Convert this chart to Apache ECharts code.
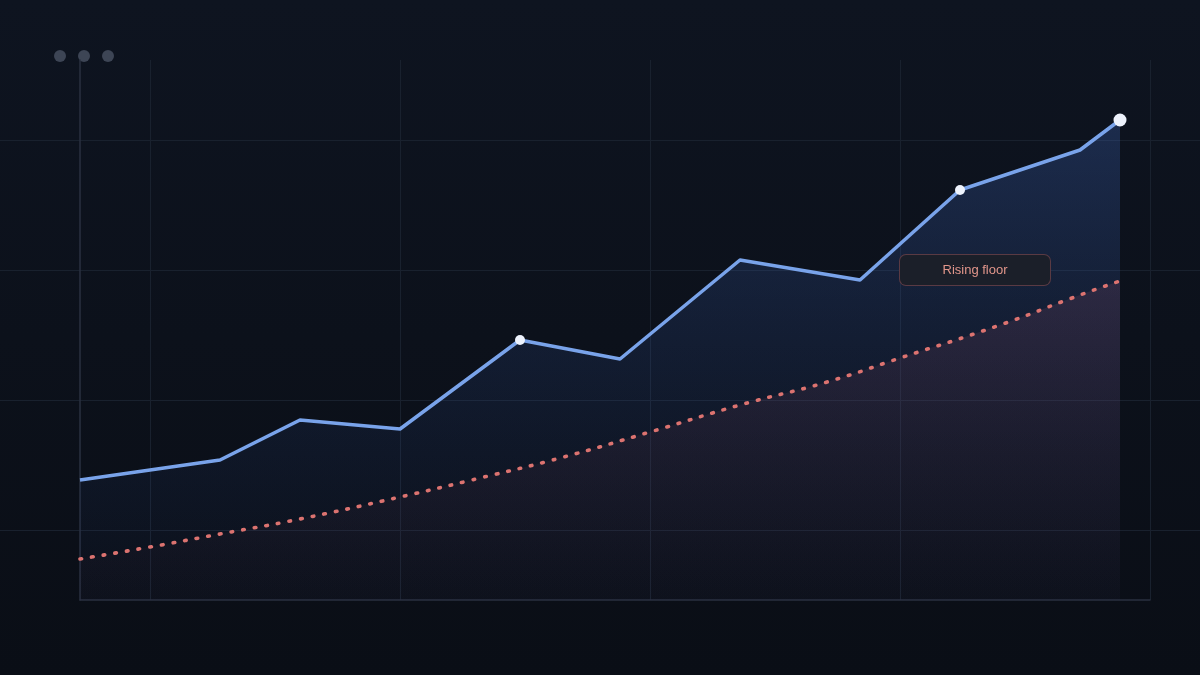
<!DOCTYPE html>
<html>
<head>
<meta charset="utf-8">
<script src="https://cdn.jsdelivr.net/npm/echarts@6/dist/echarts.min.js"></script>
<style>
html,body{margin:0;padding:0;background:#0c111b;}
#chart{width:1200px;height:675px;}
</style>
</head>
<body>
<div id="chart"></div>
<script>
// x positions (arbitrary time units) and values
const trendX = [0, 7, 11, 16, 22, 27, 33, 39, 44, 50, 52];
const trendY = [12, 14, 18, 17.1, 26, 24.1, 34, 32, 41, 45, 48];
const floorX = [0, 3.5, 7, 11, 16, 20, 24, 28.5, 33, 37.35, 41, 46, 50, 52];
const floorY = [4.1, 5.3, 6.6, 8.1, 10.3, 12.2, 14.2, 16.8, 19.5, 21.8, 24.2, 27.5, 30.5, 31.9];
const highlightIdx = [4, 8, 10];
const highlightSize = [10, 10, 13];
const floorLabel = 'Rising floor';
const floorLabelAt = [44.75, 33];

const chart = echarts.init(document.getElementById('chart'), null, {renderer:'canvas'});
const grad = (stops) => new echarts.graphic.LinearGradient(0, 0, 0, 1, stops);

const gridLine = {show:true, lineStyle:{color:'#19212e', width:1}};
const hidden = {show:false};

const option = {
  animation:false,
  backgroundColor: grad([{offset:0,color:'#0e1420'},{offset:1,color:'#0a0e16'}]),
  graphic:[
    {type:'circle', shape:{cx:60, cy:56, r:6}, style:{fill:'#3d4555'}, silent:true},
    {type:'circle', shape:{cx:84, cy:56, r:6}, style:{fill:'#3d4555'}, silent:true},
    {type:'circle', shape:{cx:108, cy:56, r:6}, style:{fill:'#3d4555'}, silent:true}
  ],
  grid:[
    {left:80, right:50, top:60, bottom:75},
    {left:150, right:50, top:60, bottom:75},
    {left:0, right:0, top:140, bottom:145}
  ],
  xAxis:[
    {gridIndex:0, type:'value', min:0, max:53.5,
     axisLine:{show:true, onZero:false, lineStyle:{color:'#2a3140', width:1.5}},
     axisTick:hidden, axisLabel:hidden, splitLine:hidden},
    {gridIndex:1, type:'value', min:0, max:4, interval:1,
     axisLine:hidden, axisTick:hidden, axisLabel:hidden, splitLine:gridLine},
    {gridIndex:2, type:'value', min:0, max:1,
     axisLine:hidden, axisTick:hidden, axisLabel:hidden, splitLine:hidden}
  ],
  yAxis:[
    {gridIndex:0, type:'value', min:0, max:54,
     axisLine:{show:true, onZero:false, lineStyle:{color:'#2a3140', width:1.5}},
     axisTick:hidden, axisLabel:hidden, splitLine:hidden},
    {gridIndex:1, type:'value', min:0, max:1,
     axisLine:hidden, axisTick:hidden, axisLabel:hidden, splitLine:hidden},
    {gridIndex:2, type:'value', min:0, max:3, interval:1,
     axisLine:hidden, axisTick:hidden, axisLabel:hidden, splitLine:gridLine}
  ],
  series:[
    {
      type:'line', xAxisIndex:0, yAxisIndex:0,
      data: trendX.map((x,i)=>[x, trendY[i]]),
      showSymbol:false, symbol:'none',
      lineStyle:{color:'#79a3ea', width:3.5, join:'round'},
      areaStyle:{color: grad([{offset:0,color:'rgba(72,118,215,0.36)'},{offset:1,color:'rgba(40,70,140,0.05)'}])},
      z:2
    },
    {
      type:'line', xAxisIndex:0, yAxisIndex:0,
      data: floorX.map((x,i)=>[x, floorY[i]]),
      smooth:true, showSymbol:false, symbol:'none',
      lineStyle:{color:'#dc7370', width:3.6, type:[1.6, 10.2], cap:'round'},
      areaStyle:{color: grad([{offset:0,color:'rgba(150,80,110,0.26)'},{offset:1,color:'rgba(120,60,80,0.03)'}])},
      markPoint:{
        symbol:'circle', symbolSize:1, itemStyle:{color:'rgba(0,0,0,0)'},
        data:[{coord:floorLabelAt, value:floorLabel}],
        label:{
          show:true, position:'inside', formatter:floorLabel,
          color:'#e2968b', fontFamily:'"Liberation Sans", Arial, sans-serif', fontSize:13,
          backgroundColor:'#1b1f29', borderColor:'#5a3a43', borderWidth:1, borderRadius:6,
          width:150, height:30, lineHeight:30, align:'center', verticalAlign:'middle', padding:0
        }
      },
      z:3
    },
    {
      type:'scatter', xAxisIndex:0, yAxisIndex:0,
      data: highlightIdx.map((k,j)=>({value:[trendX[k], trendY[k]], symbolSize:highlightSize[j]})),
      itemStyle:{color:'#eef3fd', opacity:1},
      z:5
    }
  ]
};
chart.setOption(option);
</script>
</body>
</html>
